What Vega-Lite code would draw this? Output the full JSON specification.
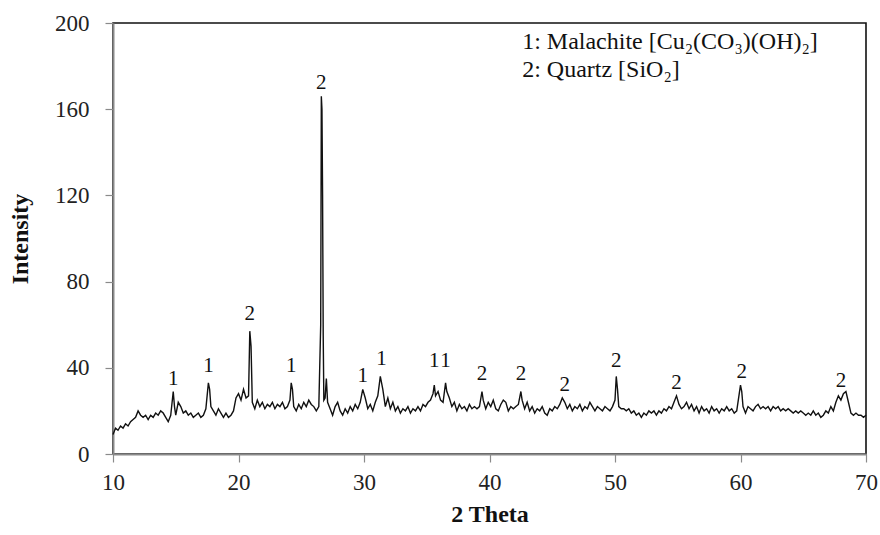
{
  "$schema": "https://vega.github.io/schema/vega-lite/v6.json",
  "autosize": "none",
  "width": 753,
  "height": 431,
  "padding": {"left": 113, "top": 23, "right": 14, "bottom": 81},
  "background": "white",
  "config": {
    "view": {"stroke": "#111", "strokeWidth": 1.6},
    "font": "Liberation Serif",
    "axis": {
      "grid": false,
      "domainColor": "#8a8a8a",
      "domainWidth": 2,
      "tickColor": "#8a8a8a",
      "tickWidth": 1.2,
      "tickSize": 8,
      "labelFont": "Liberation Serif",
      "labelFontSize": 23,
      "labelColor": "#222",
      "titleFont": "Liberation Serif",
      "titleFontSize": 24,
      "titleFontWeight": "bold",
      "titleColor": "#111"
    }
  },
  "datasets": {
    "xrd": [
      {"t":10.0,"i":9},{"t":10.2,"i":12},{"t":10.4,"i":11},{"t":10.6,"i":13},{"t":10.8,"i":12},{"t":11.0,"i":14},{"t":11.2,"i":13},{"t":11.4,"i":15},{"t":11.6,"i":16},{"t":11.8,"i":17},
      {"t":12.0,"i":20},{"t":12.2,"i":18},{"t":12.4,"i":17},{"t":12.6,"i":18},{"t":12.8,"i":16},{"t":13.0,"i":18},{"t":13.2,"i":17},{"t":13.4,"i":19},{"t":13.6,"i":18},{"t":13.8,"i":20},
      {"t":14.0,"i":19},{"t":14.2,"i":17},{"t":14.4,"i":15},{"t":14.6,"i":18},{"t":14.8,"i":29},{"t":14.9,"i":22},{"t":15.0,"i":18},{"t":15.2,"i":24},{"t":15.4,"i":22},{"t":15.6,"i":19},
      {"t":15.8,"i":20},{"t":16.0,"i":18},{"t":16.2,"i":19},{"t":16.4,"i":17},{"t":16.6,"i":18},{"t":16.8,"i":19},{"t":17.0,"i":17},{"t":17.2,"i":18},{"t":17.4,"i":21},{"t":17.6,"i":33},
      {"t":17.7,"i":30},{"t":17.8,"i":22},{"t":18.0,"i":20},{"t":18.2,"i":18},{"t":18.4,"i":21},{"t":18.6,"i":19},{"t":18.8,"i":17},{"t":19.0,"i":19},{"t":19.2,"i":17},{"t":19.4,"i":18},
      {"t":19.6,"i":20},{"t":19.8,"i":26},{"t":20.0,"i":28},{"t":20.2,"i":25},{"t":20.4,"i":30},{"t":20.6,"i":26},{"t":20.8,"i":27},{"t":20.9,"i":57},{"t":21.0,"i":50},{"t":21.1,"i":24},
      {"t":21.3,"i":21},{"t":21.5,"i":25},{"t":21.7,"i":22},{"t":21.9,"i":24},{"t":22.1,"i":21},{"t":22.3,"i":23},{"t":22.5,"i":22},{"t":22.7,"i":24},{"t":22.9,"i":21},{"t":23.1,"i":23},
      {"t":23.3,"i":22},{"t":23.5,"i":24},{"t":23.7,"i":21},{"t":23.9,"i":22},{"t":24.1,"i":25},{"t":24.2,"i":33},{"t":24.3,"i":30},{"t":24.4,"i":22},{"t":24.6,"i":20},{"t":24.8,"i":23},
      {"t":25.0,"i":21},{"t":25.2,"i":24},{"t":25.4,"i":22},{"t":25.6,"i":25},{"t":25.8,"i":23},{"t":26.0,"i":22},{"t":26.2,"i":20},{"t":26.4,"i":22},{"t":26.55,"i":60},{"t":26.6,"i":166},
      {"t":26.65,"i":160},{"t":26.7,"i":120},{"t":26.75,"i":55},{"t":26.8,"i":25},{"t":26.9,"i":26},{"t":27.0,"i":35},{"t":27.1,"i":24},{"t":27.3,"i":21},{"t":27.5,"i":18},{"t":27.7,"i":22},
      {"t":27.9,"i":24},{"t":28.1,"i":20},{"t":28.3,"i":18},{"t":28.5,"i":21},{"t":28.7,"i":19},{"t":28.9,"i":22},{"t":29.1,"i":20},{"t":29.3,"i":23},{"t":29.5,"i":21},{"t":29.7,"i":24},
      {"t":29.9,"i":30},{"t":30.1,"i":26},{"t":30.3,"i":21},{"t":30.5,"i":23},{"t":30.7,"i":20},{"t":30.9,"i":24},{"t":31.1,"i":27},{"t":31.3,"i":36},{"t":31.5,"i":30},{"t":31.7,"i":22},
      {"t":31.9,"i":26},{"t":32.1,"i":21},{"t":32.3,"i":24},{"t":32.5,"i":20},{"t":32.7,"i":22},{"t":32.9,"i":19},{"t":33.1,"i":21},{"t":33.3,"i":20},{"t":33.5,"i":22},{"t":33.7,"i":19},
      {"t":33.9,"i":21},{"t":34.1,"i":20},{"t":34.3,"i":22},{"t":34.5,"i":20},{"t":34.7,"i":23},{"t":34.9,"i":22},{"t":35.1,"i":24},{"t":35.3,"i":25},{"t":35.5,"i":28},{"t":35.6,"i":32},
      {"t":35.7,"i":27},{"t":35.9,"i":29},{"t":36.1,"i":25},{"t":36.3,"i":24},{"t":36.5,"i":33},{"t":36.6,"i":29},{"t":36.8,"i":26},{"t":37.0,"i":22},{"t":37.2,"i":24},{"t":37.4,"i":20},
      {"t":37.6,"i":23},{"t":37.8,"i":21},{"t":38.0,"i":22},{"t":38.2,"i":20},{"t":38.4,"i":23},{"t":38.6,"i":21},{"t":38.8,"i":22},{"t":39.0,"i":21},{"t":39.2,"i":22},{"t":39.4,"i":29},
      {"t":39.5,"i":25},{"t":39.7,"i":21},{"t":39.9,"i":24},{"t":40.1,"i":22},{"t":40.3,"i":25},{"t":40.5,"i":21},{"t":40.7,"i":20},{"t":40.9,"i":23},{"t":41.1,"i":25},{"t":41.3,"i":24},
      {"t":41.5,"i":20},{"t":41.7,"i":22},{"t":41.9,"i":21},{"t":42.1,"i":22},{"t":42.3,"i":23},{"t":42.5,"i":29},{"t":42.6,"i":25},{"t":42.8,"i":21},{"t":43.0,"i":24},{"t":43.2,"i":20},
      {"t":43.4,"i":22},{"t":43.6,"i":19},{"t":43.8,"i":21},{"t":44.0,"i":20},{"t":44.2,"i":22},{"t":44.4,"i":19},{"t":44.6,"i":18},{"t":44.8,"i":21},{"t":45.0,"i":20},{"t":45.2,"i":22},
      {"t":45.4,"i":21},{"t":45.6,"i":23},{"t":45.8,"i":26},{"t":46.0,"i":24},{"t":46.2,"i":21},{"t":46.4,"i":23},{"t":46.6,"i":20},{"t":46.8,"i":22},{"t":47.0,"i":21},{"t":47.2,"i":23},
      {"t":47.4,"i":20},{"t":47.6,"i":22},{"t":47.8,"i":21},{"t":48.0,"i":24},{"t":48.2,"i":22},{"t":48.4,"i":20},{"t":48.6,"i":22},{"t":48.8,"i":21},{"t":49.0,"i":20},{"t":49.2,"i":22},
      {"t":49.4,"i":21},{"t":49.6,"i":20},{"t":49.8,"i":22},{"t":50.0,"i":25},{"t":50.1,"i":36},{"t":50.2,"i":30},{"t":50.3,"i":22},{"t":50.5,"i":21},{"t":50.7,"i":21},{"t":50.9,"i":20},
      {"t":51.1,"i":21},{"t":51.3,"i":19},{"t":51.5,"i":20},{"t":51.7,"i":18},{"t":51.9,"i":19},{"t":52.1,"i":17},{"t":52.3,"i":19},{"t":52.5,"i":18},{"t":52.7,"i":20},{"t":52.9,"i":19},
      {"t":53.1,"i":20},{"t":53.3,"i":18},{"t":53.5,"i":20},{"t":53.7,"i":19},{"t":53.9,"i":21},{"t":54.1,"i":20},{"t":54.3,"i":22},{"t":54.5,"i":21},{"t":54.7,"i":24},{"t":54.9,"i":27},
      {"t":55.1,"i":23},{"t":55.3,"i":21},{"t":55.5,"i":22},{"t":55.7,"i":24},{"t":55.9,"i":21},{"t":56.1,"i":23},{"t":56.3,"i":20},{"t":56.5,"i":22},{"t":56.7,"i":19},{"t":56.9,"i":22},
      {"t":57.1,"i":20},{"t":57.3,"i":21},{"t":57.5,"i":19},{"t":57.7,"i":22},{"t":57.9,"i":20},{"t":58.1,"i":21},{"t":58.3,"i":19},{"t":58.5,"i":21},{"t":58.7,"i":20},{"t":58.9,"i":22},
      {"t":59.1,"i":20},{"t":59.3,"i":21},{"t":59.5,"i":19},{"t":59.7,"i":20},{"t":59.9,"i":28},{"t":60.0,"i":32},{"t":60.1,"i":29},{"t":60.2,"i":22},{"t":60.4,"i":19},{"t":60.6,"i":22},
      {"t":60.8,"i":21},{"t":61.0,"i":20},{"t":61.2,"i":22},{"t":61.4,"i":23},{"t":61.6,"i":21},{"t":61.8,"i":22},{"t":62.0,"i":21},{"t":62.2,"i":22},{"t":62.4,"i":20},{"t":62.6,"i":22},
      {"t":62.8,"i":21},{"t":63.0,"i":22},{"t":63.2,"i":20},{"t":63.4,"i":21},{"t":63.6,"i":20},{"t":63.8,"i":21},{"t":64.0,"i":20},{"t":64.2,"i":19},{"t":64.4,"i":20},{"t":64.6,"i":19},
      {"t":64.8,"i":20},{"t":65.0,"i":19},{"t":65.2,"i":18},{"t":65.4,"i":19},{"t":65.6,"i":18},{"t":65.8,"i":20},{"t":66.0,"i":18},{"t":66.2,"i":19},{"t":66.4,"i":17},{"t":66.6,"i":18},
      {"t":66.8,"i":20},{"t":67.0,"i":19},{"t":67.2,"i":22},{"t":67.4,"i":20},{"t":67.6,"i":24},{"t":67.8,"i":27},{"t":68.0,"i":25},{"t":68.2,"i":28},{"t":68.4,"i":29},{"t":68.6,"i":24},
      {"t":68.8,"i":19},{"t":69.0,"i":18},{"t":69.2,"i":19},{"t":69.4,"i":18},{"t":69.6,"i":18},{"t":69.8,"i":17},{"t":70.0,"i":18}
    ],
    "peaks": [
      {"t":14.8,"i":35,"lab":"1"},{"t":17.6,"i":41,"lab":"1"},{"t":20.9,"i":65,"lab":"2"},{"t":24.2,"i":41,"lab":"1"},
      {"t":26.6,"i":172,"lab":"2"},{"t":29.9,"i":36,"lab":"1"},{"t":31.4,"i":44,"lab":"1"},{"t":35.6,"i":43,"lab":"1"},
      {"t":36.5,"i":43,"lab":"1"},{"t":39.4,"i":37,"lab":"2"},{"t":42.5,"i":37,"lab":"2"},{"t":46.0,"i":32,"lab":"2"},
      {"t":50.1,"i":43,"lab":"2"},{"t":54.9,"i":33,"lab":"2"},{"t":60.1,"i":38,"lab":"2"},{"t":68.0,"i":34,"lab":"2"}
    ],
    "legend": [
      {"t":42.6,"i":191,"txt":"1: Malachite [Cu₂(CO₃)(OH)₂]"},
      {"t":42.6,"i":178,"txt":"2: Quartz [SiO₂]"}
    ]
  },
  "layer": [
    {
      "data": {"name": "xrd"},
      "mark": {"type": "line", "color": "#111", "strokeWidth": 1.4},
      "encoding": {
        "x": {"field": "t", "type": "quantitative", "scale": {"domain": [10, 70], "nice": false},
              "axis": {"title": "2 Theta", "values": [10,20,30,40,50,60,70], "labelFlush": false, "labelPadding": 9, "titlePadding": 8}},
        "y": {"field": "i", "type": "quantitative", "scale": {"domain": [0, 200], "nice": false},
              "axis": {"title": "Intensity", "values": [0,40,80,120,160,200], "labelPadding": 16, "titlePadding": 22}}
      }
    },
    {
      "data": {"name": "peaks"},
      "mark": {"type": "text", "font": "Liberation Serif", "fontSize": 21, "color": "#111", "baseline": "middle", "align": "center"},
      "encoding": {
        "x": {"field": "t", "type": "quantitative"},
        "y": {"field": "i", "type": "quantitative"},
        "text": {"field": "lab"}
      }
    },
    {
      "data": {"name": "legend"},
      "mark": {"type": "text", "font": "Liberation Serif", "fontSize": 24, "color": "#111", "baseline": "middle", "align": "left"},
      "encoding": {
        "x": {"field": "t", "type": "quantitative"},
        "y": {"field": "i", "type": "quantitative"},
        "text": {"field": "txt"}
      }
    }
  ]
}
